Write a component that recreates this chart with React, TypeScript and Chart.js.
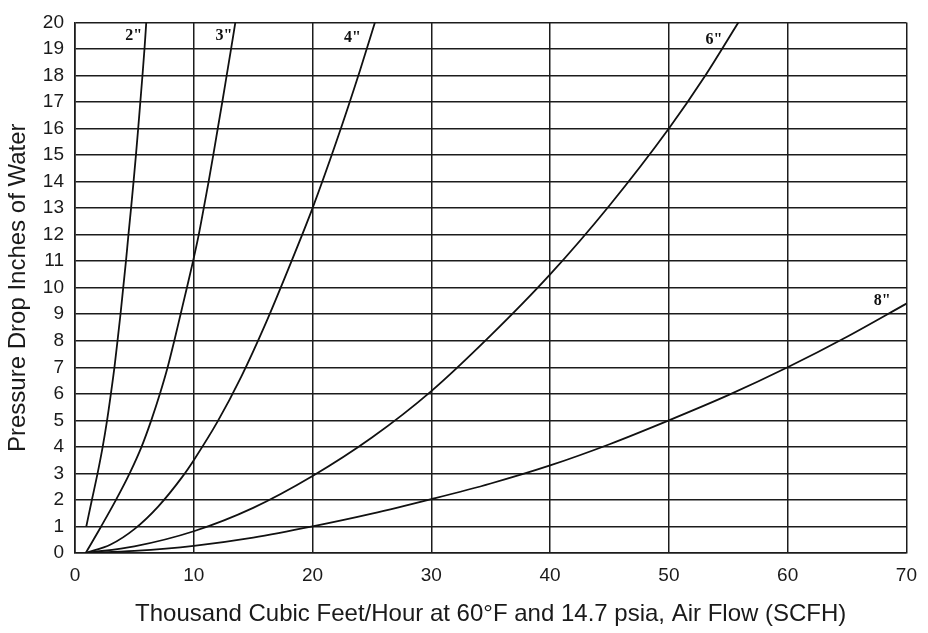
import React, { useEffect, useRef } from 'react';
import { Chart, registerables } from 'chart.js';

Chart.register(...registerables);

// Pipe size curves: flow (thousand SCFH) vs pressure drop (inches of water)
const flow2 = [0.95, 1.42, 1.9, 2.33, 2.7, 3.02, 3.32, 3.58, 3.83, 4.06, 4.29, 4.5, 4.72, 4.93, 5.13, 5.32, 5.5, 5.68, 5.85, 6.0];
const drop2 = [1, 2, 3, 4, 5, 6, 7, 8, 9, 10, 11, 12, 13, 14, 15, 16, 17, 18, 19, 20];

const flow3 = [0.9, 2.2, 3.45, 4.6, 5.6, 6.42, 7.15, 7.8, 8.36, 8.89, 9.42, 9.94, 10.42, 10.84, 11.25, 11.64, 12.02, 12.4, 12.77, 13.14, 13.5];
const drop3 = [0, 1, 2, 3, 4, 5, 6, 7, 8, 9, 10, 11, 12, 13, 14, 15, 16, 17, 18, 19, 20];

const flow4 = [0.9, 3, 5, 7, 9, 10, 12, 14, 16, 18, 20, 22, 24, 25.25];
const drop4 = [0, 0.32, 0.9, 1.75, 2.85, 3.5, 4.95, 6.65, 8.6, 10.75, 13.0, 15.5, 18.2, 20];

const flow6 = [0.9, 5, 10, 15, 20, 25, 30, 35, 40, 45, 50, 53, 55.85];
const drop6 = [0, 0.25, 0.82, 1.7, 2.9, 4.35, 6.1, 8.2, 10.5, 13.1, 16.0, 17.95, 20];

const flow8 = [0.9, 5, 10, 15, 20, 25, 30, 35, 40, 45, 50, 55, 60, 65, 70];
const drop8 = [0, 0.08, 0.27, 0.58, 1.0, 1.48, 2.03, 2.62, 3.3, 4.1, 5.0, 5.95, 7.0, 8.15, 9.4];

const curveLabelText = ['2"', '3"', '4"', '6"', '8"'];
const curveLabelX = [4.95, 12.55, 23.35, 53.8, 67.95];
const curveLabelY = [19.5, 19.5, 19.4, 19.35, 9.5];

const xTitle = 'Thousand Cubic Feet/Hour at 60°F and 14.7 psia, Air Flow (SCFH)';
const yTitle = 'Pressure Drop Inches of Water';

const seriesFlows = [flow2, flow3, flow4, flow6, flow8];
const seriesDrops = [drop2, drop3, drop4, drop6, drop8];

const SANS = "'Liberation Sans', Arial, Helvetica, sans-serif";
const INK = '#1a1a1a';
const GRID = '#1c1c1c';

const labelPlugin = {
  id: 'curveLabels',
  afterDatasetsDraw(chart: any) {
    const { ctx, scales } = chart;
    ctx.save();
    ctx.font = "bold 16px 'Liberation Serif', 'Times New Roman', serif";
    ctx.fillStyle = '#111';
    ctx.textAlign = 'center';
    ctx.textBaseline = 'middle';
    curveLabelText.forEach((t, i) => {
      ctx.fillText(t, scales.x.getPixelForValue(curveLabelX[i]), scales.y.getPixelForValue(curveLabelY[i]));
    });
    ctx.restore();
  },
};

export default function App() {
  const ref = useRef<HTMLCanvasElement>(null);
  useEffect(() => {
    document.body.style.margin = '0';
    const datasets = seriesFlows.map((fl, i) => ({
      label: curveLabelText[i],
      data: fl.map((x, j) => ({ x, y: seriesDrops[i][j] })),
      showLine: true,
      borderColor: '#111',
      borderWidth: 1.8,
      pointRadius: 0,
      fill: false,
      cubicInterpolationMode: 'monotone' as const,
    }));
    const chart = new Chart(ref.current as HTMLCanvasElement, {
      type: 'scatter',
      data: { datasets },
      options: {
        responsive: false,
        animation: false,
        layout: { padding: { left: 0, right: 14, top: 20, bottom: 0 } },
        plugins: { legend: { display: false }, tooltip: { enabled: false } },
        scales: {
          x: {
            type: 'linear',
            min: 0,
            max: 70,
            ticks: { stepSize: 10, padding: 11, color: INK, font: { family: SANS, size: 19 } },
            grid: { color: GRID, lineWidth: 1.5, drawTicks: false },
            border: { color: GRID, width: 1.6 },
            title: {
              display: true,
              text: xTitle,
              color: INK,
              font: { family: SANS, size: 24 },
              padding: { top: 4, bottom: 4 },
            },
            afterFit: (s: any) => {
              s.height = 80;
            },
          },
          y: {
            type: 'linear',
            min: 0,
            max: 20,
            ticks: { stepSize: 1, padding: 11, color: INK, font: { family: SANS, size: 19 } },
            grid: { color: GRID, lineWidth: 1.5, drawTicks: false },
            border: { color: GRID, width: 1.6 },
            title: {
              display: true,
              text: yTitle,
              color: INK,
              font: { family: SANS, size: 24 },
              padding: { top: 4, bottom: 4 },
            },
            afterFit: (s: any) => {
              s.width = 75;
            },
          },
        },
      },
      plugins: [labelPlugin],
    });
    return () => chart.destroy();
  }, []);
  return <canvas ref={ref} width={928} height={633} style={{ display: 'block' }} />;
}
